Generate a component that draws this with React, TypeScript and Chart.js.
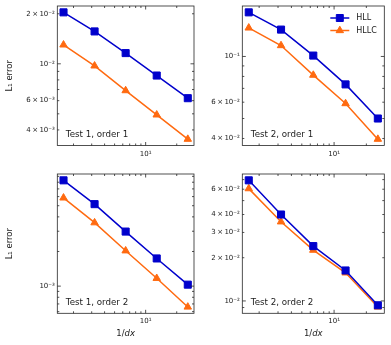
import React, { useEffect, useRef } from 'react';
import { Chart, registerables } from 'chart.js';

Chart.register(...registerables);

// ---------- data ----------
const invDx = [1.6, 3.2, 6.4, 12.8, 25.6];

const hllTest1Order1 = [2.04e-2, 1.566e-2, 1.16e-2, 8.5e-3, 6.21e-3];
const hllcTest1Order1 = [1.3e-2, 9.72e-3, 6.9e-3, 4.93e-3, 3.52e-3];

const hllTest2Order1 = [0.1637, 0.135, 0.101, 0.0732, 0.05];
const hllcTest2Order1 = [0.1376, 0.113, 0.0812, 0.0591, 0.0397];

const hllTest1Order2 = [8.31e-3, 5.16e-3, 2.98e-3, 1.74e-3, 1.03e-3];
const hllcTest1Order2 = [5.85e-3, 3.56e-3, 2.03e-3, 1.17e-3, 6.59e-4];

const hllTest2Order2 = [6.92e-2, 4.0e-2, 2.41e-2, 1.63e-2, 9.33e-3];
const hllcTest2Order2 = [6.06e-2, 3.56e-2, 2.26e-2, 1.57e-2, 9.08e-3];

const seriesNames = ['HLL', 'HLLC'];

const xTickValues = [10];
const xTickLabels = ['10¹'];

const yTicksT1O1 = [2e-2, 1e-2, 6e-3, 4e-3];
const yLabelsT1O1 = ['2\u2009×\u200910⁻²', '10⁻²', '6\u2009×\u200910⁻³', '4\u2009×\u200910⁻³'];
const yTicksT2O1 = [1e-1, 6e-2, 4e-2];
const yLabelsT2O1 = ['10⁻¹', '6\u2009×\u200910⁻²', '4\u2009×\u200910⁻²'];
const yTicksT1O2 = [1e-3];
const yLabelsT1O2 = ['10⁻³'];
const yTicksT2O2 = [6e-2, 4e-2, 3e-2, 2e-2, 1e-2];
const yLabelsT2O2 = ['6\u2009×\u200910⁻²', '4\u2009×\u200910⁻²', '3\u2009×\u200910⁻²', '2\u2009×\u200910⁻²', '10⁻²'];

// ---------- style ----------
const BLUE = '#0000cc';
const ORANGE = '#ff6a10';
const FONT = "'DejaVu Sans', sans-serif";
const INK = '#1a1a1a';

type Panel = {
  left: number; top: number; w: number; h: number;
  area: { l: number; r: number; t: number; b: number };
  hll: number[]; hllc: number[];
  yTicks: number[]; yLabels: string[];
  note: string; yTitle: boolean; xTitle: boolean; legend: boolean;
};

const panels: Panel[] = [
  { left: 0, top: 0, w: 200, h: 165, area: { l: 57.3, r: 199, t: 5.5, b: 145.5 },
    hll: hllTest1Order1, hllc: hllcTest1Order1, yTicks: yTicksT1O1, yLabels: yLabelsT1O1,
    note: 'Test 1, order 1', yTitle: true, xTitle: false, legend: false },
  { left: 200, top: 0, w: 191, h: 165, area: { l: 42.3, r: 184.3, t: 5.5, b: 145.5 },
    hll: hllTest2Order1, hllc: hllcTest2Order1, yTicks: yTicksT2O1, yLabels: yLabelsT2O1,
    note: 'Test 2, order 1', yTitle: false, xTitle: false, legend: true },
  { left: 0, top: 165, w: 200, h: 180, area: { l: 57.3, r: 199, t: 9, b: 148.3 },
    hll: hllTest1Order2, hllc: hllcTest1Order2, yTicks: yTicksT1O2, yLabels: yLabelsT1O2,
    note: 'Test 1, order 2', yTitle: true, xTitle: true, legend: false },
  { left: 200, top: 165, w: 191, h: 180, area: { l: 42.3, r: 184.3, t: 9, b: 148.3 },
    hll: hllTest2Order2, hllc: hllcTest2Order2, yTicks: yTicksT2O2, yLabels: yLabelsT2O2,
    note: 'Test 2, order 2', yTitle: false, xTitle: true, legend: false },
];

function logRange(values: number[]) {
  const lo = Math.log10(Math.min(...values));
  const hi = Math.log10(Math.max(...values));
  const m = 0.05 * (hi - lo);
  return { min: Math.pow(10, lo - m), max: Math.pow(10, hi + m) };
}

function logTickValues(min: number, max: number) {
  const out: { v: number; major: boolean }[] = [];
  for (let e = Math.floor(Math.log10(min)); e <= Math.ceil(Math.log10(max)); e++) {
    for (let k = 1; k <= 9; k++) {
      const v = k * Math.pow(10, e);
      if (v >= min * 0.9999 && v <= max * 1.0001) out.push({ v, major: k === 1 });
    }
  }
  return out;
}

function drawMarker(ctx: CanvasRenderingContext2D, style: string, x: number, y: number, color: string) {
  ctx.save();
  ctx.fillStyle = color;
  ctx.strokeStyle = color;
  ctx.lineWidth = 1;
  ctx.beginPath();
  if (style === 'rect') {
    ctx.rect(x - 3.5, y - 3.5, 7, 7);
  } else {
    const r = 4.3;
    ctx.moveTo(x, y - r);
    ctx.lineTo(x + r * 0.866, y + r * 0.5);
    ctx.lineTo(x - r * 0.866, y + r * 0.5);
    ctx.closePath();
  }
  ctx.fill();
  ctx.stroke();
  ctx.restore();
}

const decorPlugin = {
  id: 'decor',
  afterDatasetsDraw(chart: any, _args: any, opts: any) {
    const { ctx, chartArea: a } = chart;
    const xs = chart.scales.x;
    const ys = chart.scales.y;
    ctx.save();
    ctx.strokeStyle = '#262626';
    ctx.lineWidth = 0.8;
    const seg = (x1: number, y1: number, x2: number, y2: number) => {
      ctx.beginPath(); ctx.moveTo(x1, y1); ctx.lineTo(x2, y2); ctx.stroke();
    };
    for (const t of logTickValues(xs.min, xs.max)) {
      const px = xs.getPixelForValue(t.v);
      const len = t.major ? 3.5 : 2;
      seg(px, a.bottom, px, a.bottom - len);
      seg(px, a.top, px, a.top + len);
    }
    for (const t of logTickValues(ys.min, ys.max)) {
      const py = ys.getPixelForValue(t.v);
      const len = t.major ? 3.5 : 2;
      seg(a.left, py, a.left + len, py);
      seg(a.right, py, a.right - len, py);
    }
    ctx.strokeRect(a.left, a.top, a.right - a.left, a.bottom - a.top);

    ctx.fillStyle = INK;
    ctx.font = `8.7px ${FONT}`;
    ctx.textBaseline = 'middle';
    ctx.textAlign = 'left';
    ctx.fillText(opts.note, a.left + 8.5, a.bottom - 11);

    if (opts.yTitle) {
      ctx.save();
      ctx.translate(10, (a.top + a.bottom) / 2);
      ctx.rotate(-Math.PI / 2);
      ctx.textAlign = 'center';
      ctx.font = `8.5px ${FONT}`;
      ctx.fillText('L₁ error', 0, 0);
      ctx.restore();
    }
    if (opts.xTitle) {
      ctx.save();
      ctx.font = `8.5px ${FONT}`;
      const w1 = ctx.measureText('1/').width;
      ctx.font = `italic 8.5px ${FONT}`;
      const w2 = ctx.measureText('dx').width;
      const cx = (a.left + a.right) / 2;
      const y = a.bottom + 20;
      ctx.textAlign = 'left';
      ctx.font = `8.5px ${FONT}`;
      ctx.fillText('1/', cx - (w1 + w2) / 2, y);
      ctx.font = `italic 8.5px ${FONT}`;
      ctx.fillText('dx', cx - (w1 + w2) / 2 + w1, y);
      ctx.restore();
    }
    if (opts.legend) {
      const rows = [
        { name: seriesNames[0], color: BLUE, style: 'rect', y: a.top + 12 },
        { name: seriesNames[1], color: ORANGE, style: 'triangle', y: a.top + 24.5 },
      ];
      for (const r of rows) {
        ctx.strokeStyle = r.color;
        ctx.lineWidth = 1.5;
        seg(a.right - 54, r.y, a.right - 35, r.y);
        drawMarker(ctx, r.style, a.right - 44.5, r.y, r.color);
        ctx.fillStyle = INK;
        ctx.font = `8px ${FONT}`;
        ctx.textAlign = 'left';
        ctx.fillText(r.name, a.right - 28, r.y);
      }
    }
    ctx.restore();
  },
};

function PanelChart({ p }: { p: Panel }) {
  const ref = useRef<HTMLCanvasElement>(null);
  useEffect(() => {
    if (!ref.current) return;
    const xr = logRange(invDx);
    const yr = logRange([...p.hll, ...p.hllc]);
    const leftW = p.area.l;
    const bottomH = p.h - p.area.b;
    const zeroPad = (s: any) => {
      s.paddingTop = 0; s.paddingBottom = 0; s.paddingLeft = 0; s.paddingRight = 0;
    };
    const chart = new Chart(ref.current, {
      type: 'line',
      data: {
        datasets: [
          {
            label: seriesNames[0],
            data: invDx.map((x, i) => ({ x, y: p.hll[i] })),
            borderColor: BLUE, backgroundColor: BLUE,
            borderWidth: 1.5, pointStyle: 'rect', pointRadius: 5, pointBorderWidth: 1,
            pointBackgroundColor: BLUE, pointBorderColor: BLUE, tension: 0, clip: false,
          } as any,
          {
            label: seriesNames[1],
            data: invDx.map((x, i) => ({ x, y: p.hllc[i] })),
            borderColor: ORANGE, backgroundColor: ORANGE,
            borderWidth: 1.5, pointStyle: 'triangle', pointRadius: 4.3, pointBorderWidth: 1,
            pointBackgroundColor: ORANGE, pointBorderColor: ORANGE, tension: 0, clip: false,
          } as any,
        ],
      },
      options: {
        animation: false,
        responsive: false,
        maintainAspectRatio: false,
        events: [],
        layout: { padding: { left: 0, top: p.area.t, right: p.w - p.area.r, bottom: 0 } },
        plugins: {
          legend: { display: false },
          tooltip: { enabled: false },
          decor: { note: p.note, yTitle: p.yTitle, xTitle: p.xTitle, legend: p.legend },
        } as any,
        scales: {
          x: {
            type: 'logarithmic', min: xr.min, max: xr.max, bounds: 'data',
            grid: { display: false, drawTicks: false }, border: { display: false },
            ticks: {
              autoSkip: false, maxRotation: 0, minRotation: 0, padding: 4, color: INK,
              font: { family: FONT, size: 7 },
              callback: (v: any) => {
                const i = xTickValues.findIndex((t) => Math.abs(t - v) / t < 1e-6);
                return i >= 0 ? xTickLabels[i] : '';
              },
            },
            afterBuildTicks: (s: any) => { s.ticks = xTickValues.map((v) => ({ value: v })); },
            afterFit: (s: any) => { s.height = bottomH; zeroPad(s); },
          },
          y: {
            type: 'logarithmic', min: yr.min, max: yr.max, bounds: 'data',
            grid: { display: false, drawTicks: false }, border: { display: false },
            ticks: {
              autoSkip: false, padding: 2.5, color: INK,
              font: { family: FONT, size: 7 },
              callback: (v: any) => {
                const i = p.yTicks.findIndex((t) => Math.abs(t - v) / t < 1e-6);
                return i >= 0 ? p.yLabels[i] : '';
              },
            },
            afterBuildTicks: (s: any) => { s.ticks = p.yTicks.map((v) => ({ value: v })); },
            afterFit: (s: any) => { s.width = leftW; zeroPad(s); },
          },
        } as any,
      },
      plugins: [decorPlugin],
    });
    return () => chart.destroy();
  }, [p]);
  return (
    <canvas
      ref={ref}
      width={p.w}
      height={p.h}
      style={{ position: 'absolute', left: p.left, top: p.top, width: p.w, height: p.h }}
    />
  );
}

export default function App() {
  return (
    <div style={{ position: 'absolute', left: 0, top: 0, width: 391, height: 345, background: '#fff', overflow: 'hidden' }}>
      {panels.map((p, i) => (
        <PanelChart key={i} p={p} />
      ))}
    </div>
  );
}
